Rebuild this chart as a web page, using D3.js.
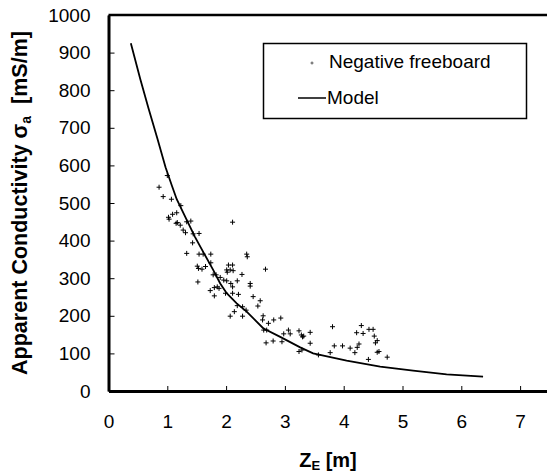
<!DOCTYPE html>
<html><head><meta charset="utf-8">
<script src="https://cdn.jsdelivr.net/npm/d3@7"></script>
<style>body{margin:0;background:#fff}text{font-family:Arial,"Liberation Sans",sans-serif}</style>
</head><body>
<svg id="c" width="547" height="475"></svg>
<script>
const xTicks = [0,1,2,3,4,5,6,7];
const yTicks = [0,100,200,300,400,500,600,700,800,900,1000];
const obsX = [0.86,0.93,1.00,1.07,1.02,1.03,1.09,1.16,1.15,1.17,1.22,1.23,1.27,1.31,1.33,1.40,1.44,1.54,1.43,1.33,1.54,1.61,1.74,1.51,1.53,1.59,1.65,1.74,1.52,1.78,1.83,1.90,1.96,1.73,1.80,1.85,1.88,1.80,2.01,2.02,2.07,2.11,2.04,2.12,2.11,2.35,2.36,2.01,2.08,2.11,2.19,2.27,1.99,2.11,2.21,2.41,2.41,2.46,2.58,2.54,2.19,2.28,2.34,2.14,2.07,2.28,2.67,2.63,2.62,2.72,2.81,2.93,2.64,2.69,2.68,2.80,2.95,2.98,3.09,3.06,3.24,3.24,3.28,3.30,3.32,3.43,3.43,3.29,3.57,3.77,3.81,3.84,3.98,4.11,4.19,4.23,4.26,4.30,4.22,4.33,4.43,4.50,4.52,4.54,4.57,4.60,4.57,4.42,4.74];
const obsY = [542,517,573,510,462,457,470,474,446,448,441,493,428,421,450,452,418,419,394,366,364,364,364,332,326,324,331,341,290,309,309,302,295,267,275,277,273,253,322,316,322,335,335,320,449,364,357,293,286,277,293,310,260,260,257,286,279,251,240,226,227,224,215,211,199,199,324,200,189,180,189,194,162,162,128,133,131,152,152,162,160,105,149,144,146,156,127,109,96,102,171,120,120,114,102,116,125,174,155,153,164,164,146,128,134,105,103,84,90];
const modelX = [0.38,0.54,0.68,0.83,0.97,1.08,1.16,1.33,1.47,1.61,1.78,1.90,2.01,2.18,2.35,2.63,2.92,3.26,3.48,4.05,4.62,5.18,5.75,6.37];
const modelY = [925,830,752,672,595,545,510,455,410,370,322,286,260,233,211,167,144,116,100,81,65,54,44,38];
const legendLabels = ["Negative freeboard","Model"];

const svg = d3.select("#c");
const x = d3.scaleLinear().domain([0,7.5]).range([108.5,549.5]);
const y = d3.scaleLinear().domain([0,1000]).range([391,15]);

const xAxis = svg.append("g").attr("transform","translate(0,391)")
  .call(d3.axisBottom(x).tickValues(xTicks).tickFormat(d3.format("d")).tickSizeInner(-5).tickSizeOuter(0).tickPadding(24));
const yAxis = svg.append("g").attr("transform","translate(108.5,0)")
  .call(d3.axisLeft(y).tickValues(yTicks).tickFormat(d3.format("d")).tickSizeInner(-6).tickSizeOuter(0).tickPadding(18));
[xAxis,yAxis].forEach(a=>{
  a.select(".domain").attr("stroke","#000").attr("stroke-width",3);
  a.selectAll(".tick line").attr("stroke","#000").attr("stroke-width",1);
  a.selectAll(".tick text").attr("font-size",19).attr("fill","#000");
});
svg.append("line").attr("x1",x(0)).attr("x2",x(7.5)).attr("y1",y(1000)).attr("y2",y(1000))
  .attr("stroke","#000").attr("stroke-width",2.5);

svg.append("path").datum(modelX.map((v,i)=>[v,modelY[i]]))
  .attr("d",d3.line().x(d=>x(d[0])).y(d=>y(d[1])))
  .attr("fill","none").attr("stroke","#000").attr("stroke-width",1.8);

const plus = (g,s)=>g.append("path").attr("d",`M${-s},0H${s}M0,${-s}V${s}`).attr("stroke","#000").attr("stroke-width",1);
svg.append("g").selectAll("g").data(obsX.map((v,i)=>[v,obsY[i]])).join("g")
  .attr("transform",d=>`translate(${x(d[0])},${y(d[1])})`)
  .each(function(){plus(d3.select(this),2.5);});

const lg = svg.append("g");
lg.append("rect").attr("x",263.5).attr("y",43.5).attr("width",263).attr("height",75)
  .attr("fill","#fff").attr("stroke","#000").attr("stroke-width",1.5);
lg.append("path").attr("transform","translate(312,63)").attr("d","M-1.5,0H1.5M0,-1.5V1.5").attr("stroke","#555").attr("stroke-width",1);
lg.append("line").attr("x1",298).attr("x2",326).attr("y1",98).attr("y2",98).attr("stroke","#000").attr("stroke-width",1.5);
lg.append("text").attr("x",329).attr("y",68).attr("font-size",19).text(legendLabels[0]);
lg.append("text").attr("x",327).attr("y",104).attr("font-size",19).text(legendLabels[1]);

const xt = svg.append("text").attr("x",328).attr("y",467).attr("text-anchor","middle")
  .attr("font-size",20).attr("font-weight","bold");
xt.append("tspan").text("Z");
xt.append("tspan").attr("font-size",13).attr("dy",3).text("E");
xt.append("tspan").attr("dy",-3).text(" [m]");

const yt = svg.append("text").attr("transform","translate(27,203) rotate(-90)").attr("text-anchor","middle")
  .attr("font-size",21.5).attr("font-weight","bold");
yt.append("tspan").text("Apparent Conductivity σ");
yt.append("tspan").attr("font-size",14).attr("dy",4).text("a");
yt.append("tspan").attr("dy",-4).text("\u00a0 [mS/m]");
</script>
</body></html>
